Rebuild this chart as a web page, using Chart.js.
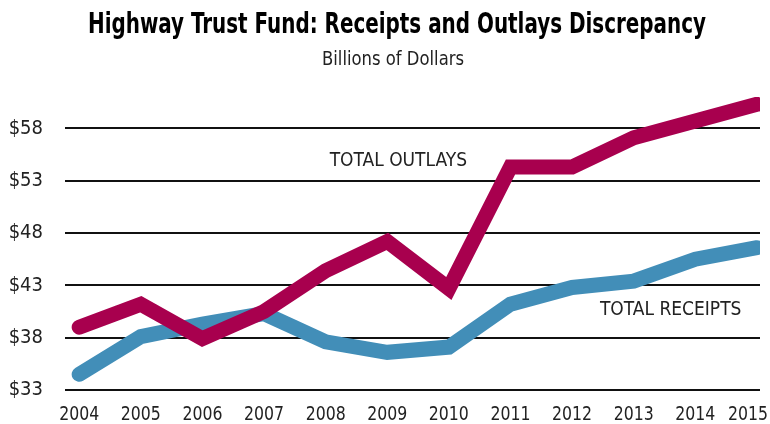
<!DOCTYPE html>
<html>
<head>
<meta charset="utf-8">
<title>Highway Trust Fund</title>
<script src="https://cdn.jsdelivr.net/npm/chart.js@4.4.1/dist/chart.umd.min.js"></script>
<style>
  html, body { margin: 0; padding: 0; background: #fff; }
  #wrap { width: 770px; height: 424px; position: relative; }
</style>
</head>
<body>
<div id="wrap"><canvas id="htfChart"></canvas></div>
<script>
// Data (billions of dollars)
const years = [2004, 2005, 2006, 2007, 2008, 2009, 2010, 2011, 2012, 2013, 2014, 2015];
const outlays = [39.0, 41.2, 37.9, 40.5, 44.4, 47.2, 42.7, 54.3, 54.3, 57.1, 58.7, 60.3];
const receipts = [34.5, 38.1, 39.3, 40.3, 37.6, 36.6, 37.1, 41.2, 42.8, 43.4, 45.5, 46.6];
const yTicks = [33, 38, 43, 48, 53, 58];

const TITLE = "Highway Trust Fund: Receipts and Outlays Discrepancy";
const SUBTITLE = "Billions of Dollars";

const FONT = "'DejaVu Sans Condensed', 'Liberation Sans Narrow', sans-serif";
const OUTLAY_COLOR = "#a8004e";
const RECEIPT_COLOR = "#428eb8";

// series labels placed in data space
const seriesLabels = [
  { text: "TOTAL OUTLAYS", x: 2009.18, y: 54.9 },
  { text: "TOTAL RECEIPTS", x: 2013.6, y: 40.65 }
];

// the original uses a narrow face, so squeeze the text horizontally
function squeezedText(ctx, text, cx, y, width) {
  const w = ctx.measureText(text).width;
  const sx = width ? width / w : 1;
  ctx.save();
  ctx.translate(cx, y);
  ctx.scale(sx, 1);
  ctx.fillText(text, 0, 0);
  ctx.restore();
}

const extraText = {
  id: "extraText",
  afterDraw(chart) {
    const ctx = chart.ctx;
    const xs = chart.scales.x, ys = chart.scales.y;
    ctx.save();
    ctx.textAlign = "center";
    ctx.textBaseline = "alphabetic";

    // title and subtitle
    ctx.fillStyle = "#000";
    ctx.font = "bold 28px " + FONT;
    squeezedText(ctx, TITLE, 397, 33, 618);
    ctx.fillStyle = "#222";
    ctx.font = "19px " + FONT;
    squeezedText(ctx, SUBTITLE, 393, 65, 142);

    // year labels under the axis, last one kept inside the canvas
    ctx.font = "20px " + FONT;
    years.forEach(yr => {
      const w = 40;
      let px = xs.getPixelForValue(yr);
      px = Math.min(px, chart.width - 2 - w / 2);
      squeezedText(ctx, String(yr), px, ys.bottom + 30, w);
    });

    ctx.textBaseline = "middle";
    ctx.font = "19px " + FONT;
    seriesLabels.forEach(l => {
      squeezedText(ctx, l.text, xs.getPixelForValue(l.x), ys.getPixelForValue(l.y));
    });
    ctx.restore();
  }
};

const ctx = document.getElementById("htfChart").getContext("2d");
new Chart(ctx, {
  type: "line",
  data: {
    datasets: [
      {
        label: "Total Outlays",
        data: years.map((yr, i) => ({ x: yr, y: outlays[i] })),
        borderColor: OUTLAY_COLOR,
        borderWidth: 15,
        borderCapStyle: "round",
        borderJoinStyle: "miter",
        pointRadius: 0,
        tension: 0
      },
      {
        label: "Total Receipts",
        data: years.map((yr, i) => ({ x: yr, y: receipts[i] })),
        borderColor: RECEIPT_COLOR,
        borderWidth: 15,
        borderCapStyle: "round",
        borderJoinStyle: "miter",
        pointRadius: 0,
        tension: 0
      }
    ]
  },
  plugins: [extraText],
  options: {
    responsive: true,
    maintainAspectRatio: false,
    animation: false,
    layout: { padding: { left: 0, right: 10, top: 97, bottom: 31 } },
    plugins: {
      legend: { display: false },
      tooltip: { enabled: false },
      title: { display: false }
    },
    scales: {
      x: {
        type: "linear",
        min: 2003.77,
        max: 2015.05,
        grid: { display: false },
        border: { display: false },
        ticks: { display: false },
        afterFit: s => { s.height = 0; }
      },
      y: {
        min: 33,
        max: 61,
        afterBuildTicks: s => { s.ticks = yTicks.map(v => ({ value: v })); },
        afterFit: s => { s.width = 65; },
        grid: { color: "#111", lineWidth: 2, drawTicks: false },
        border: { display: false },
        ticks: {
          padding: 22,
          color: "#222",
          font: { family: FONT, size: 20 },
          callback: v => "$" + v
        }
      }
    }
  }
});
</script>
</body>
</html>
